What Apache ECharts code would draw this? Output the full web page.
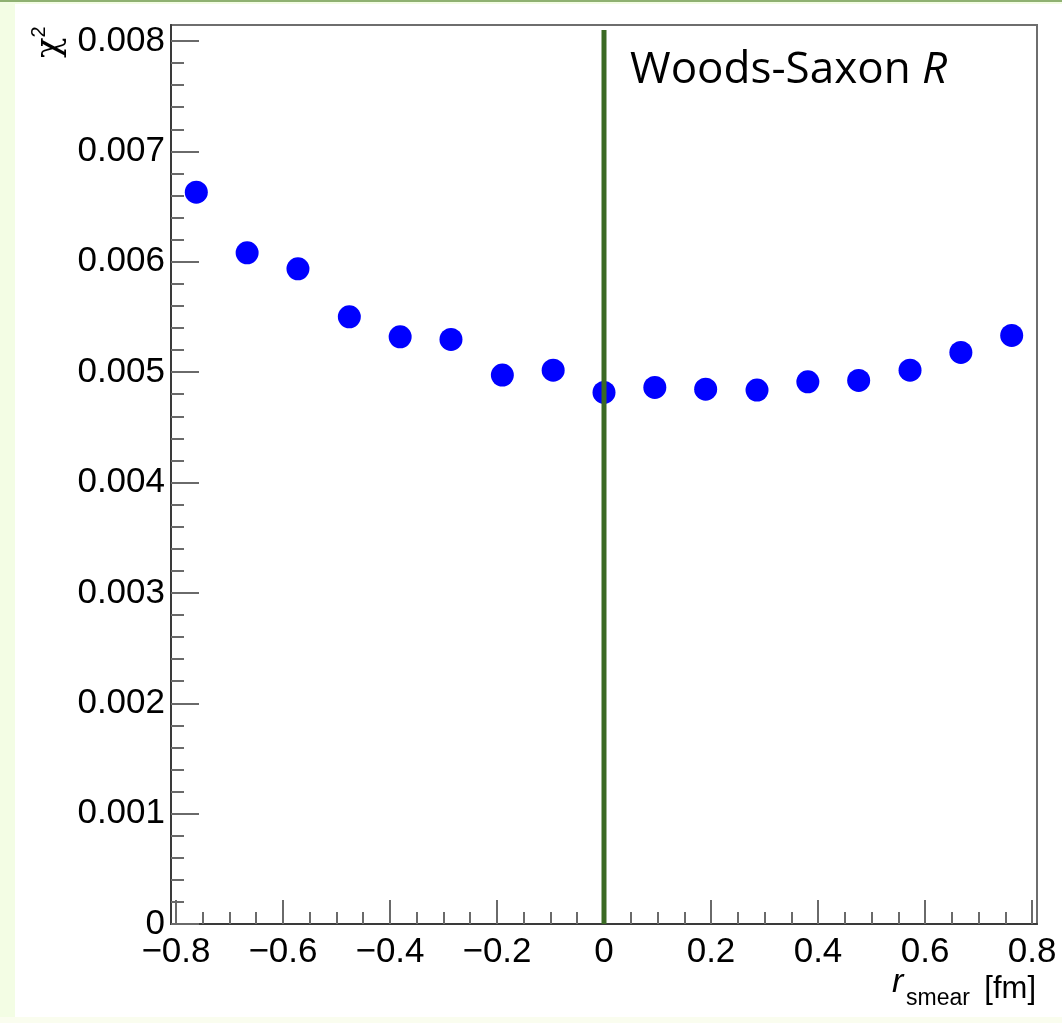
<!DOCTYPE html>
<html>
<head>
<meta charset="utf-8">
<title>chi2 vs r_smear</title>
<script src="https://cdn.jsdelivr.net/npm/echarts@6/dist/echarts.min.js"></script>
<style>
  html, body { margin: 0; padding: 0; width: 1062px; height: 1023px; background: #ffffff; overflow: hidden; }
  .band { position: absolute; }
  #chart { position: absolute; left: 0; top: 0; width: 1062px; height: 1023px; }
</style>
</head>
<body>
<div class="band" style="left:0;top:0;width:15px;height:1023px;background:#f3fde4;"></div>
<div class="band" style="left:0;top:0;width:1062px;height:4px;background:#f3fde4;"></div>
<div class="band" style="left:0;top:0;width:1062px;height:2px;background:#8fb172;"></div>
<div class="band" style="left:0;top:1017px;width:1062px;height:6px;background:#fafdef;"></div>
<div id="chart"></div>
<script>
// r_smear scan points [fm]
const rSmear = [-0.762, -0.667, -0.572, -0.476, -0.381, -0.286, -0.190, -0.095, 0.0,
                0.095, 0.190, 0.286, 0.381, 0.476, 0.572, 0.667, 0.762];
// chi^2 at each point
const chi2 = [0.00663, 0.006081, 0.005936, 0.005501, 0.00532, 0.005296, 0.004973, 0.005018, 0.004816,
              0.004861, 0.004846, 0.004837, 0.004912, 0.004925, 0.005018, 0.005178, 0.005332];

// axis ranges
const xRange = [-0.8093, 0.8093];
const yRange = [0, 0.008145];

// major tick labels
const xMajorTicks = [-0.8, -0.6, -0.4, -0.2, 0, 0.2, 0.4, 0.6, 0.8];
const xTickLabels = ['\u22120.8', '\u22120.6', '\u22120.4', '\u22120.2', '0', '0.2', '0.4', '0.6', '0.8'];
const yMajorTicks = [0, 0.001, 0.002, 0.003, 0.004, 0.005, 0.006, 0.007, 0.008];
const yTickLabels = ['0', '0.001', '0.002', '0.003', '0.004', '0.005', '0.006', '0.007', '0.008'];

// reference marker: Woods-Saxon R at r_smear = 0
const markerX = 0;
const markerTop = 0.0081;
const markerLabel = 'Woods-Saxon ';
const markerLabelItalic = 'R';

// minor ticks: x every 0.05, y every 0.0002
const xMinorTicks = [];
for (let i = -16; i <= 16; i++) xMinorTicks.push(i * 0.05);
const yMinorTicks = [];
for (let i = 0; i <= 40; i++) yMinorTicks.push(i * 0.0002);

const labelFor = (ticks, labels) => v => {
  let best = 0;
  for (let i = 1; i < ticks.length; i++) if (Math.abs(ticks[i] - v) < Math.abs(ticks[best] - v)) best = i;
  return labels[best];
};

const FONT = '"Liberation Sans", Arial, Helvetica, sans-serif';
const tickColor = '#6a6a6a';
const frameColor = '#3a3a3a';

const chart = echarts.init(document.getElementById('chart'), null, { renderer: 'canvas' });

const option = {
  animation: false,
  backgroundColor: 'transparent',
  grid: {
    left: 171, right: 25, top: 25, bottom: 99,
    show: true, borderColor: '#6e6e6e', borderWidth: 2, backgroundColor: '#ffffff'
  },
  xAxis: [
    {
      type: 'value', min: xRange[0], max: xRange[1], position: 'bottom',
      axisLine: { show: true, onZero: false, lineStyle: { color: frameColor, width: 2 } },
      axisTick: { show: true, inside: true, length: 24, customValues: xMajorTicks, lineStyle: { color: tickColor, width: 2 } },
      axisLabel: {
        show: true, customValues: xMajorTicks, formatter: labelFor(xMajorTicks, xTickLabels),
        fontFamily: FONT, fontSize: 35, color: '#000', margin: 11
      },
      splitLine: { show: false }
    },
    {
      type: 'value', min: xRange[0], max: xRange[1], position: 'bottom',
      axisLine: { show: false, onZero: false },
      axisTick: { show: true, inside: true, length: 12, customValues: xMinorTicks, lineStyle: { color: tickColor, width: 2 } },
      axisLabel: { show: false },
      splitLine: { show: false }
    }
  ],
  yAxis: [
    {
      type: 'value', min: yRange[0], max: yRange[1], position: 'left',
      axisLine: { show: true, onZero: false, lineStyle: { color: frameColor, width: 2 } },
      axisTick: { show: true, inside: true, length: 28, customValues: yMajorTicks, lineStyle: { color: tickColor, width: 2 } },
      axisLabel: {
        show: true, customValues: yMajorTicks, formatter: labelFor(yMajorTicks, yTickLabels),
        fontFamily: FONT, fontSize: 35, color: '#000', margin: 6
      },
      splitLine: { show: false }
    },
    {
      type: 'value', min: yRange[0], max: yRange[1], position: 'left',
      axisLine: { show: false, onZero: false },
      axisTick: { show: true, inside: true, length: 13, customValues: yMinorTicks, lineStyle: { color: tickColor, width: 2 } },
      axisLabel: { show: false },
      splitLine: { show: false }
    }
  ],
  series: [
    {
      name: 'chi2', type: 'scatter', xAxisIndex: 0, yAxisIndex: 0,
      symbol: 'circle', symbolSize: 23,
      itemStyle: { color: '#0000ff', opacity: 1 },
      data: rSmear.map((x, i) => [x, chi2[i]]),
      z: 3
    },
    {
      name: 'marker', type: 'line', xAxisIndex: 0, yAxisIndex: 0,
      data: [[markerX, 0], [markerX, markerTop]],
      showSymbol: false, symbol: 'none',
      lineStyle: { color: '#3b6a24', width: 5 },
      z: 5, silent: true
    }
  ],
  graphic: [
    {
      type: 'text', x: 630, y: 70, z: 10,
      style: {
        text: '{n|' + markerLabel + '}{i|' + markerLabelItalic + '}',
        verticalAlign: 'middle',
        rich: {
          n: { fontFamily: '"Open Sans", Lato, sans-serif', fontSize: 44, fill: '#000' },
          i: { fontFamily: '"Open Sans", Lato, sans-serif', fontSize: 44, fontStyle: 'italic', fill: '#000' }
        }
      }
    },
    {
      // y-axis title, rotated
      type: 'text', x: 50, y: 58, rotation: Math.PI / 2, z: 10,
      style: {
        text: '{c|\u03c7}{s|2}',
        align: 'left', verticalAlign: 'middle',
        rich: {
          c: { fontFamily: '"DejaVu Serif", serif', fontSize: 34, fill: '#000' },
          s: { fontFamily: FONT, fontSize: 20, fill: '#000', padding: [0, 0, 22, 0] }
        }
      }
    },
    { type: 'text', x: 892, y: 983, z: 10,
      style: { text: 'r', fontFamily: FONT, fontSize: 34, fontStyle: 'italic', fill: '#000', verticalAlign: 'middle' } },
    { type: 'text', x: 906, y: 999, z: 10,
      style: { text: 'smear', fontFamily: FONT, fontSize: 23, fill: '#000', verticalAlign: 'middle' } },
    { type: 'text', x: 1036, y: 989, z: 10,
      style: { text: '[fm]', fontFamily: FONT, fontSize: 31, fill: '#000', align: 'right', verticalAlign: 'middle' } }
  ]
};

chart.setOption(option);
</script>
</body>
</html>
